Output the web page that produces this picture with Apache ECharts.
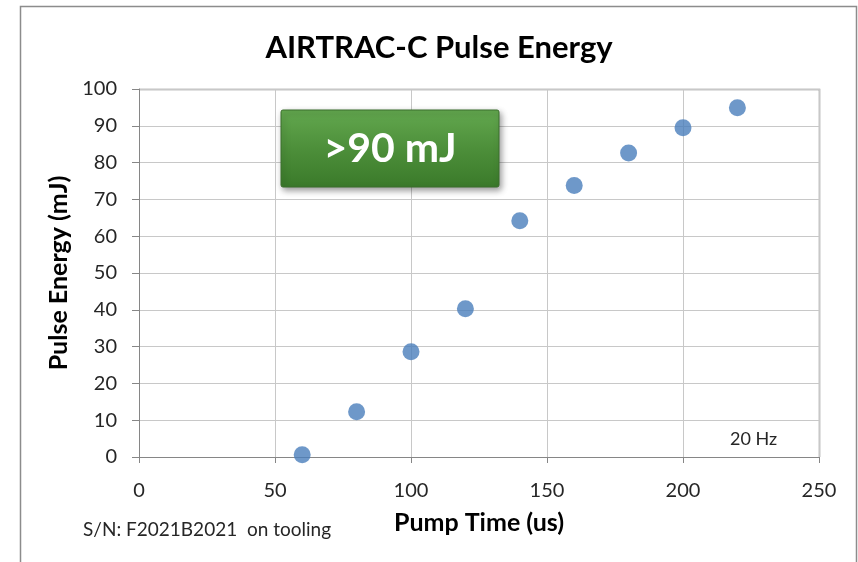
<!DOCTYPE html>
<html>
<head>
<meta charset="utf-8">
<script src="https://cdn.jsdelivr.net/npm/echarts@6/dist/echarts.min.js"></script>
<style>
  html, body { margin: 0; padding: 0; background: #fff; }
  #chart { width: 858px; height: 562px; }
</style>
</head>
<body>
<div id="chart"></div>
<script>
// pump time (us) and measured pulse energy (mJ)
const pumpTime = [60, 80, 100, 120, 140, 160, 180, 200, 220];
const pulseEnergy = [0.6, 12.3, 28.6, 40.3, 64.2, 73.8, 82.6, 89.5, 94.9];

const FONT = 'Lato, "Noto Sans", sans-serif';

let myChart = echarts.init(document.getElementById('chart'));

let option = {
    backgroundColor: '#fff',
    animation: false,
    title: {
        text: 'AIRTRAC-C Pulse Energy',
        left: 434,
        textAlign: 'center',
        top: 27,
        textStyle: { fontFamily: FONT, fontSize: 31, fontWeight: 'bold', color: '#000' }
    },
    grid: { left: 139, right: 39, top: 89, bottom: 105 },
    xAxis: {
        type: 'value',
        min: 0, max: 250, interval: 50,
        name: 'Pump Time (us)',
        nameLocation: 'middle',
        nameGap: 53,
        nameTextStyle: { fontFamily: FONT, fontSize: 25, fontWeight: 'bold', color: '#000' },
        axisLine: { show: true, onZero: false, lineStyle: { color: '#868686', width: 1 } },
        axisTick: { show: true, length: 6, lineStyle: { color: '#868686' } },
        axisLabel: { margin: 24, fontFamily: FONT, fontSize: 20, color: '#262626' },
        splitLine: { show: true, lineStyle: { color: '#c8c8c8', width: 1 } }
    },
    yAxis: {
        type: 'value',
        min: 0, max: 100, interval: 10,
        name: 'Pulse Energy (mJ)',
        nameLocation: 'middle',
        nameGap: 62,
        nameTextStyle: { fontFamily: FONT, fontSize: 25, fontWeight: 'bold', color: '#000' },
        axisLine: { show: true, lineStyle: { color: '#868686', width: 1 } },
        axisTick: { show: true, length: 7, lineStyle: { color: '#868686' } },
        axisLabel: { margin: 22, fontFamily: FONT, fontSize: 20, color: '#262626' },
        splitLine: { show: true, lineStyle: { color: '#c8c8c8', width: 1 } }
    },
    series: [
        {
            type: 'scatter',
            data: pumpTime.map((t, i) => [t, pulseEnergy[i]]),
            symbolSize: 17,
            itemStyle: { color: '#4a7ebb' }
        }
    ],
    graphic: [
        // outer chart frame
        {
            type: 'rect',
            shape: { x: 20.5, y: 6.5, width: 836, height: 570 },
            style: { fill: null, stroke: '#8c8c8c', lineWidth: 1.5 },
            silent: true
        },
        // plot area right/top border
        {
            type: 'polyline',
            shape: { points: [[139, 89.5], [819.5, 89.5], [819.5, 457]] },
            style: { fill: null, stroke: '#868686', lineWidth: 1.5 },
            silent: true
        },
        // green callout box
        {
            type: 'rect',
            shape: { x: 281, y: 110, width: 218, height: 77, r: 2 },
            style: {
                fill: new echarts.graphic.LinearGradient(0, 0, 0, 1, [
                    { offset: 0, color: '#63a84f' },
                    { offset: 0.5, color: '#4d8f3a' },
                    { offset: 1, color: '#3a7a2a' }
                ]),
                stroke: '#3b6e2c',
                lineWidth: 1,
                shadowBlur: 6,
                shadowOffsetX: 2,
                shadowOffsetY: 3,
                shadowColor: 'rgba(0,0,0,0.4)'
            },
            z: 10
        },
        {
            type: 'text',
            x: 390,
            y: 149,
            style: {
                text: '>90 mJ',
                fill: '#fff',
                font: 'bold 41px ' + FONT,
                align: 'center',
                verticalAlign: 'middle'
            },
            z: 11
        },
        {
            type: 'text',
            left: 730,
            top: 430,
            style: { text: '20 Hz', fill: '#262626', font: '18px ' + FONT },
            z: 11
        },
        {
            type: 'text',
            left: 83,
            top: 520,
            style: { text: 'S/N: F2021B2021  on tooling', fill: '#262626', font: '19px ' + FONT },
            z: 11
        }
    ]
};

myChart.setOption(option);
</script>
</body>
</html>
